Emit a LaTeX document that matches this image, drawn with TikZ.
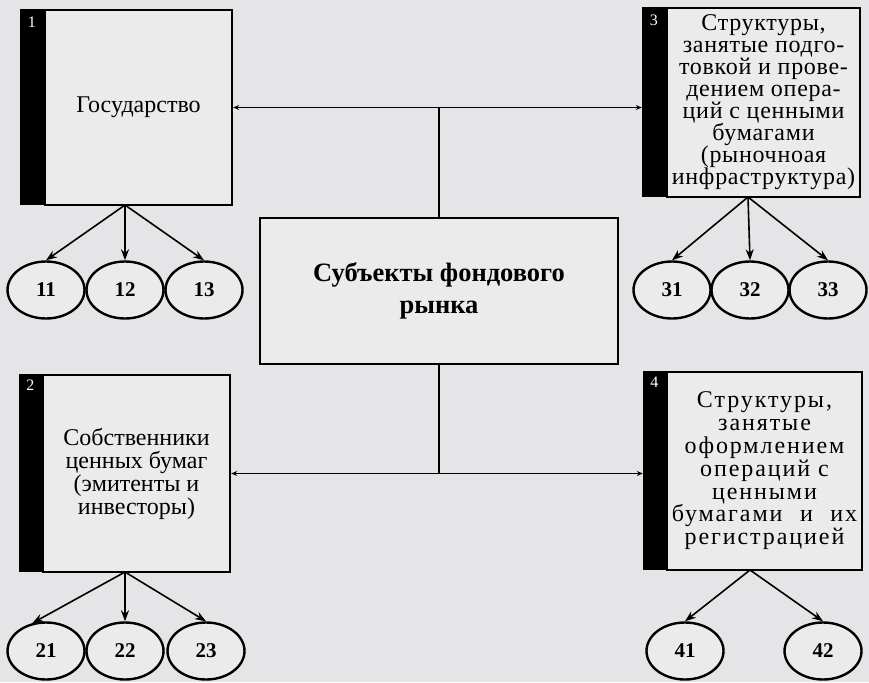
\documentclass[tikz,border=0pt]{standalone}
\usepackage{fontspec}
\setmainfont{Liberation Serif}
\usetikzlibrary{arrows.meta,shapes.geometric}
\definecolor{bg}{HTML}{E5E5E7}
\definecolor{boxfill}{HTML}{EBEBEC}
\begin{document}
\begin{tikzpicture}[x=1pt,y=-1pt,
  box/.style={draw, line width=2.4pt, fill=boxfill, align=center, inner sep=0pt,
    font=\fontsize{24}{22.5}\selectfont},
  bar/.style={fill=black, draw=black, line width=1pt, inner sep=0pt},
  num/.style={text=white, font=\fontsize{16}{16}\selectfont, inner sep=0pt},
  oval/.style={ellipse, draw, line width=2.4pt, fill=boxfill, minimum width=77pt,
    minimum height=57pt, inner sep=0pt, font=\fontsize{21}{21}\bfseries\selectfont},
  link/.style={line width=1.3pt},
  dbl/.style={line width=1.3pt, {Stealth[length=6pt,width=5pt]}-{Stealth[length=6pt,width=5pt]}},
  arr/.style={line width=1.6pt, -{Stealth[length=11pt,width=8pt]}}
]
\fill[bg] (0,0) rectangle (869,682);
\useasboundingbox (0,0) rectangle (869,682);

% boxes
\node[box, minimum width=187pt, minimum height=195pt] (b1) at (138.5,107.5) {Государство};
\node[bar, minimum width=23pt, minimum height=195pt, anchor=north east] (bar1) at (b1.north west) {};
\node[num, anchor=north] at ([yshift=-8pt]bar1.north) {1};

\node[box, minimum width=193pt, minimum height=189pt,
  font=\fontsize{24}{22}\selectfont\addfontfeature{LetterSpace=3}] (b3) at (763.5,102.5)
  {Структуры,\\занятые подго-\\товкой и прове-\\дением опера-\\ций с ценными\\бумагами\\(рыночноая\\инфраструктура)};
\node[bar, minimum width=23pt, minimum height=189pt, anchor=north east] (bar3) at (b3.north west) {};
\node[num, anchor=north] at ([yshift=-8pt]bar3.north) {3};

\node[box, minimum width=187pt, minimum height=197pt,
  font=\fontsize{24}{23}\selectfont] (b2) at (136.5,473.5)
  {Собственники\\ценных бумаг\\(эмитенты и\\инвесторы)};
\node[bar, minimum width=22pt, minimum height=197pt, anchor=north east] (bar2) at (b2.north west) {};
\node[num, anchor=north] at ([yshift=-6pt]bar2.north) {2};

\node[box, minimum width=195pt, minimum height=198pt,
  font=\fontsize{24}{22.8}\selectfont\addfontfeature{LetterSpace=8}] (b4) at (764.5,471)
  {Структуры,\\занятые\\оформлением\\операций с\\ценными\\бумагами\hspace{0.4em} и\hspace{0.4em} их\\регистрацией};
\node[bar, minimum width=22pt, minimum height=198pt, anchor=north east] (bar4) at (b4.north west) {};
\node[num, anchor=north] at ([yshift=-6pt]bar4.north) {4};

\node[box, font=\fontsize{26.5}{32}\bfseries\selectfont, minimum width=358pt, minimum height=146pt]
  (c) at (439,291) {Субъекты фондового\\рынка};

% central connectors
\coordinate (t1) at (b1.east);
\coordinate (t3) at (t1 -| bar3.west);
\draw[dbl] (t1) -- (t3);
\coordinate (j1) at (c.north |- t1);
\draw[link] (c.north) -- (j1);

\coordinate (t2) at (b2.east);
\coordinate (t4) at (t2 -| bar4.west);
\draw[dbl] (t2) -- (t4);
\coordinate (j2) at (c.south |- t2);
\draw[link] (c.south) -- (j2);

% ovals
\node[oval] (e11) at (46,290) {11};
\node[oval] (e12) at (125,290) {12};
\node[oval] (e13) at (204,290) {13};
\node[oval] (e31) at (672,290) {31};
\node[oval] (e32) at (750,290) {32};
\node[oval] (e33) at (828,290) {33};
\node[oval] (e21) at (46,651) {21};
\node[oval] (e22) at (125,651) {22};
\node[oval] (e23) at (206,651) {23};
\node[oval] (e41) at (685,651) {41};
\node[oval] (e42) at (823,651) {42};

% sources
\coordinate (s1) at (125,205);
\coordinate (s3) at (748,197);
\coordinate (s2) at (125,572);
\coordinate (s4) at (750,570);

\draw[arr] (s1) -- (e11.north);
\draw[arr] (s1) -- (e12.north);
\draw[arr] (s1) -- (e13.north);
\draw[arr] (s3) -- (e31.north);
\draw[arr] (s3) -- (e32.north);
\draw[arr] (s3) -- (e33.north);
\draw[arr] (s2) -- (e21.116);
\draw[arr] (s2) -- (e22.north);
\draw[arr] (s2) -- (e23.north);
\draw[arr] (s4) -- (e41.north);
\draw[arr] (s4) -- (e42.north);
\end{tikzpicture}
\end{document}
